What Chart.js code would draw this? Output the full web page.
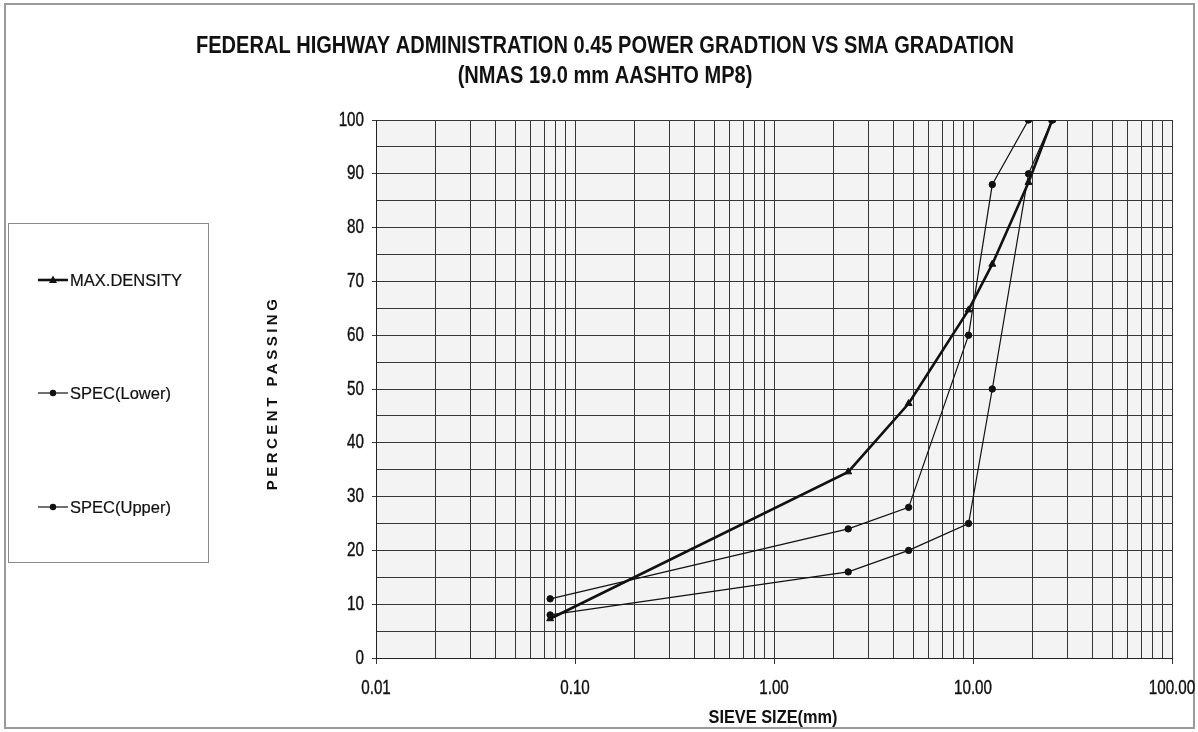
<!DOCTYPE html>
<html><head><meta charset="utf-8">
<script src="https://cdn.jsdelivr.net/npm/chart.js@4/dist/chart.umd.min.js"></script>
<style>html,body{margin:0;padding:0;background:#fff;overflow:hidden}#wrap{width:1198px;height:732px;position:relative}</style>
</head><body><div id="wrap"><canvas id="c" width="1198" height="732"></canvas></div>
<script>
// ---- data ----
const sieveSizes = [25, 19, 12.5, 9.5, 4.75, 2.36, 0.075];
const maxDensity = [100, 88.4, 73.2, 64.7, 47.3, 34.6, 7.3];
const specLower  = [100, 90, 50, 25, 20, 16, 8];
const specUpper  = [100, 100, 88, 60, 28, 24, 11];
const seriesNames = ['MAX.DENSITY', 'SPEC(Lower)', 'SPEC(Upper)'];
const xDecades = [0.01, 0.1, 1, 10, 100];
const xTickLabels = ['0.01', '0.10', '1.00', '10.00', '100.00'];
const yTickValues = [0, 10, 20, 30, 40, 50, 60, 70, 80, 90, 100];
const yTickLabels = ['0','10','20','30','40','50','60','70','80','90','100'];
const titleLines = ['FEDERAL HIGHWAY ADMINISTRATION 0.45 POWER GRADTION VS SMA GRADATION', '(NMAS 19.0 mm AASHTO MP8)'];
const xTitle = 'SIEVE SIZE(mm)';
const yTitle = 'PERCENT PASSING';

const FONT = '"Liberation Sans", Arial, "DejaVu Sans", sans-serif';
const INK = '#111';
const GRID = '#363636';

function pts(ys) { return sieveSizes.map((x, i) => ({x: x, y: ys[i]})); }
function decadeIndex(v) { for (let i = 0; i < xDecades.length; i++) if (Math.abs(v / xDecades[i] - 1) < 1e-6) return i; return -1; }

// draws text horizontally compressed by factor sx (optionally slightly emboldened)
function txt(ctx, s, x, y, font, sx, align, bolden) {
  ctx.save();
  ctx.font = font;
  ctx.textAlign = align || 'center';
  ctx.textBaseline = 'middle';
  ctx.translate(x, y);
  ctx.scale(sx, 1);
  ctx.fillText(s, 0, 0);
  if (bolden) { ctx.strokeStyle = ctx.fillStyle; ctx.lineWidth = bolden; ctx.strokeText(s, 0, 0); }
  ctx.restore();
}
function fitScale(ctx, s, font, width) { ctx.save(); ctx.font = font; const w = ctx.measureText(s).width; ctx.restore(); return width / w; }

const datasets = [
  {label: seriesNames[0], data: pts(maxDensity), borderColor: INK, backgroundColor: INK, borderWidth: 2.6, pointStyle: 'triangle', pointRadius: 4, pointBorderWidth: 1},
  {label: seriesNames[1], data: pts(specLower), borderColor: INK, backgroundColor: INK, borderWidth: 1.2, pointStyle: 'circle', pointRadius: 3.2, pointBorderWidth: 1},
  {label: seriesNames[2], data: pts(specUpper), borderColor: INK, backgroundColor: INK, borderWidth: 1.2, pointStyle: 'circle', pointRadius: 3.2, pointBorderWidth: 1}
];

const deco = {
  id: 'deco',
  beforeDraw(chart) {
    const ctx = chart.ctx, a = chart.chartArea;
    ctx.save();
    ctx.fillStyle = '#fff';
    ctx.fillRect(0, 0, chart.width, chart.height);
    ctx.fillStyle = '#f3f3f3';
    ctx.fillRect(a.left, a.top, a.right - a.left, a.bottom - a.top);
    ctx.restore();
  },
  afterDraw(chart) {
    const ctx = chart.ctx;
    const xs = chart.scales.x, ys = chart.scales.y;
    ctx.save();
    ctx.fillStyle = INK;
    // outer frame
    ctx.strokeStyle = '#9a9a9a'; ctx.lineWidth = 2;
    ctx.strokeRect(5, 4, 1189, 724);
    // title
    const tf = 'bold 24px ' + FONT;
    const tsx = fitScale(ctx, titleLines[0], tf, 818);
    txt(ctx, titleLines[0], 605, 46, tf, tsx);
    txt(ctx, titleLines[1], 605, 76, tf, tsx);
    // tick labels
    const tkf = '20px ' + FONT;
    xDecades.forEach((v, i) => txt(ctx, xTickLabels[i], xs.getPixelForValue(v), 688, tkf, 0.76, 'center', 0.4));
    yTickValues.forEach((v, i) => txt(ctx, yTickLabels[i], 364, ys.getPixelForValue(v), tkf, 0.76, 'right', 0.4));
    // x title
    const xf = 'bold 19px ' + FONT;
    txt(ctx, xTitle, 773, 718, xf, fitScale(ctx, xTitle, xf, 129));
    // y title
    ctx.save();
    ctx.translate(273, 393);
    ctx.rotate(-Math.PI / 2);
    ctx.font = 'bold 15px ' + FONT;
    ctx.textAlign = 'center'; ctx.textBaseline = 'middle';
    try { ctx.letterSpacing = '3.5px'; } catch (e) {}
    ctx.fillText(yTitle, 0, 0);
    ctx.restore();
    // legend box
    ctx.strokeStyle = '#8a8a8a'; ctx.lineWidth = 1;
    ctx.strokeRect(8.5, 223.5, 200, 339);
    const ly = [280, 393, 507];
    const lf = '17px ' + FONT;
    chart.data.datasets.forEach((ds, i) => {
      const y = ly[i];
      ctx.strokeStyle = ds.borderColor; ctx.lineWidth = ds.borderWidth;
      ctx.beginPath(); ctx.moveTo(38, y); ctx.lineTo(68, y); ctx.stroke();
      ctx.fillStyle = ds.backgroundColor;
      ctx.beginPath();
      if (ds.pointStyle === 'triangle') {
        ctx.moveTo(53, y - 4.5); ctx.lineTo(57, y + 3); ctx.lineTo(49, y + 3); ctx.closePath();
      } else {
        ctx.arc(53, y, 3.2, 0, Math.PI * 2);
      }
      ctx.fill();
      ctx.fillStyle = INK;
      txt(ctx, ds.label, 70, y + 1, lf, fitScale(ctx, seriesNames[0], lf, 112), 'left', 0.2);
    });
    ctx.restore();
  }
};

new Chart(document.getElementById('c'), {
  type: 'line',
  data: {datasets: datasets},
  plugins: [deco],
  options: {
    responsive: false, animation: false, devicePixelRatio: 1,
    layout: {padding: {left: 250, right: 26, top: 120, bottom: 0}},
    plugins: {legend: {display: false}, title: {display: false}, tooltip: {enabled: false}},
    elements: {line: {tension: 0}},
    scales: {
      x: {
        type: 'logarithmic', min: 0.01, max: 100,
        afterBuildTicks(scale) {
          const t = [];
          for (let d = 0; d < xDecades.length; d++) {
            for (let k = 1; k <= 9; k++) {
              const v = xDecades[d] * k;
              if (v <= 100 + 1e-9) t.push({value: v, major: k === 1});
              if (d === xDecades.length - 1) break;
            }
          }
          scale.ticks = t;
        },
        afterFit(scale) { scale.height = 74; scale.paddingLeft = 0; scale.paddingRight = 0; },
        ticks: {display: false, autoSkip: false},
        grid: {
          color: GRID, lineWidth: 1, tickLength: 6,
          tickColor(c) { return c.tick && decadeIndex(c.tick.value) >= 0 ? GRID : 'rgba(0,0,0,0)'; }
        },
        border: {display: true, color: '#222', width: 1},
        title: {display: false}
      },
      y: {
        type: 'linear', min: 0, max: 100,
        afterFit(scale) { scale.width = 126; scale.paddingTop = 0; scale.paddingBottom = 0; },
        ticks: {display: false, stepSize: 5, autoSkip: false},
        grid: {
          color: GRID, lineWidth: 1, tickLength: 4,
          tickColor(c) { return c.tick && c.tick.value % 10 === 0 ? GRID : 'rgba(0,0,0,0)'; }
        },
        border: {display: true, color: '#222', width: 1},
        title: {display: false}
      }
    }
  }
});
</script></body></html>
